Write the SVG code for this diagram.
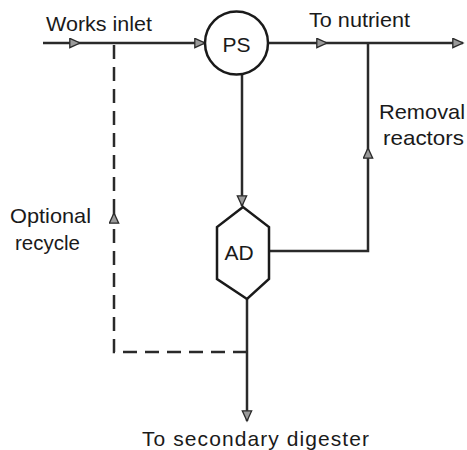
<svg xmlns="http://www.w3.org/2000/svg" width="467" height="450" viewBox="0 0 467 450">
<style>
.ln{fill:none;stroke:#2a2a2a;stroke-width:2.5}
.dash{fill:none;stroke:#2a2a2a;stroke-width:2.5;stroke-dasharray:14 8}
.shape{fill:#fff;stroke:#1a1a1a;stroke-width:2.5}
.t{font-family:"Liberation Sans",Arial,sans-serif;font-size:21px;fill:#1a1a1a}
</style>
<defs>
<marker id="arr" markerUnits="userSpaceOnUse" markerWidth="14" markerHeight="12" refX="11" refY="5.5" orient="auto">
<path d="M0.8,0.8 L11,5.5 L0.8,10.2 z" fill="#9a9a9a" stroke="#2a2a2a" stroke-width="1.3"/>
</marker>
</defs>
<rect width="467" height="450" fill="#fff"/>
<g id="connectors">
<path class="ln" d="M43,43 H80" marker-end="url(#arr)"/>
<path class="ln" d="M80,43 H205" marker-end="url(#arr)"/>
<path class="dash" d="M247,352 H114 V213" marker-end="url(#arr)"/>
<path class="dash" d="M114,213 V43"/>
<path class="ln" d="M268,43 H327" marker-end="url(#arr)"/>
<path class="ln" d="M327,43 H463" marker-end="url(#arr)"/>
<path class="ln" d="M242,75 V206" marker-end="url(#arr)"/>
<path class="ln" d="M269,251 H368 V148" marker-end="url(#arr)"/>
<path class="ln" d="M368,148 V43"/>
<path class="ln" d="M247,299 V421" marker-end="url(#arr)"/>
</g>
<g id="node-ps">
<circle class="shape" cx="236.5" cy="43" r="31.5"/>
<text class="t" x="236.5" y="52" text-anchor="middle" font-size="22">PS</text>
</g>
<g id="node-ad">
<polygon class="shape" points="243,207 217,227 217,279 247,299 269,279 269,227"/>
<text class="t" x="239" y="260" text-anchor="middle" font-size="21">AD</text>
</g>
<g id="labels">
<text class="t" x="46" y="31" textLength="106" lengthAdjust="spacingAndGlyphs">Works inlet</text>
<text class="t" x="309" y="27" textLength="101" lengthAdjust="spacingAndGlyphs">To nutrient</text>
<text class="t" x="379" y="119" textLength="86" lengthAdjust="spacingAndGlyphs">Removal</text>
<text class="t" x="383" y="145" textLength="81" lengthAdjust="spacingAndGlyphs">reactors</text>
<text class="t" x="10" y="223" textLength="81" lengthAdjust="spacingAndGlyphs">Optional</text>
<text class="t" x="15" y="250" textLength="65" lengthAdjust="spacingAndGlyphs">recycle</text>
<text class="t" x="142" y="446" textLength="227" lengthAdjust="spacing">To secondary digester</text>
</g>
</svg>
